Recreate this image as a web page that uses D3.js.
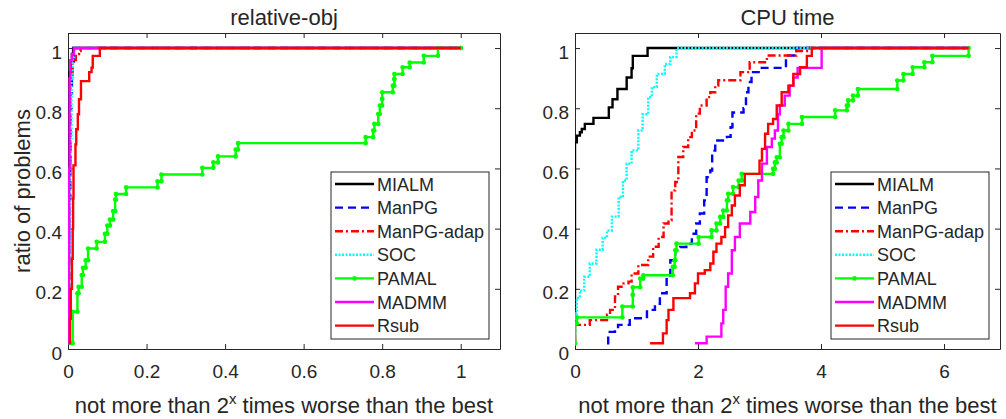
<!DOCTYPE html>
<html>
<head>
<meta charset="utf-8">
<script src="https://cdn.jsdelivr.net/npm/d3@7"></script>
<style>
  body { margin: 0; background: #fff; }
  text { font-family: "Liberation Sans", Arial, Helvetica, sans-serif; fill: #262626; }
</style>
</head>
<body>
<div id="chart"></div>
<script>
// Solver names (legend order = plot order)
var solverNames = ["MIALM", "ManPG", "ManPG-adap", "SOC", "PAMAL", "MADMM", "Rsub"];

// Panel titles
var panelTitles = ["relative-obj", "CPU time"];

// Tick values
var relObjTicks = [0, 0.2, 0.4, 0.6, 0.8, 1];
var cpuTicks = [0, 2, 4, 6];
var ratioTicks = [0, 0.2, 0.4, 0.6, 0.8, 1];

// relative-obj profiles: [x, ratio]
var relObjMIALM = [[0, 0.02], [0, 0.5], [0.002, 0.85], [0.004, 0.92], [0.007, 0.96], [0.01, 0.98], [0.013, 1], [1, 1]];
var relObjManPG = [[0, 0.02], [0.003, 0.5], [0.006, 0.85], [0.01, 0.95], [0.015, 1], [1, 1]];
var relObjManPGadap = [[0, 0.02], [0.003, 0.6], [0.006, 0.9], [0.012, 0.96], [0.02, 0.98], [0.028, 0.99], [0.032, 1], [1, 1]];
var relObjSOC = [[0, 0.02], [0.003, 0.3], [0.006, 0.7], [0.009, 0.9], [0.012, 0.97], [0.016, 1], [1, 1]];
var relObjPAMAL = [[0.007, 0.019], [0.012, 0.124], [0.024, 0.185], [0.027, 0.207], [0.035, 0.246], [0.038, 0.27],
  [0.045, 0.295], [0.051, 0.334], [0.073, 0.356], [0.094, 0.383], [0.1, 0.41], [0.107, 0.43], [0.115, 0.458],
  [0.12, 0.497], [0.122, 0.515], [0.148, 0.537], [0.228, 0.557], [0.238, 0.58], [0.342, 0.602], [0.37, 0.62],
  [0.382, 0.64], [0.427, 0.663], [0.433, 0.684], [0.758, 0.704], [0.777, 0.726], [0.78, 0.748], [0.79, 0.781],
  [0.794, 0.809], [0.8, 0.831], [0.8, 0.853], [0.827, 0.875], [0.831, 0.897], [0.831, 0.914], [0.852, 0.936],
  [0.87, 0.952], [0.906, 0.974], [0.942, 1], [1, 1]];
var relObjMADMM = [[0, 0.02], [0.002, 0.3], [0.003, 0.6], [0.004, 0.9], [0.006, 0.96], [0.01, 0.98], [0.015, 1], [1, 1]];
var relObjRsub = [[0.003, 0.02], [0.005, 0.1], [0.007, 0.2], [0.01, 0.3], [0.012, 0.4], [0.013, 0.5], [0.014, 0.61],
  [0.019, 0.68], [0.021, 0.73], [0.025, 0.78], [0.028, 0.83], [0.033, 0.89], [0.054, 0.92], [0.06, 0.935],
  [0.063, 0.974], [0.081, 1], [1, 1]];

// CPU time profiles: [x, ratio]
var cpuMIALM = [[0, 0.02], [0, 0.687], [0.03, 0.709], [0.08, 0.72], [0.11, 0.731], [0.16, 0.748], [0.3, 0.768],
  [0.55, 0.803], [0.61, 0.83], [0.69, 0.864], [0.84, 0.902], [0.92, 0.933], [0.94, 0.974], [1.18, 1], [6.4, 1]];
var cpuManPG = [[0.52, 0.019], [0.54, 0.057], [0.65, 0.068], [0.7, 0.08], [0.89, 0.102], [1.17, 0.13], [1.3, 0.15],
  [1.38, 0.185], [1.49, 0.24], [1.55, 0.295], [1.63, 0.328], [1.71, 0.339], [1.81, 0.35], [1.9, 0.383],
  [1.97, 0.417], [2.03, 0.45], [2.1, 0.494], [2.14, 0.571], [2.2, 0.593], [2.23, 0.659], [2.28, 0.693],
  [2.47, 0.705], [2.53, 0.737], [2.56, 0.786], [2.74, 0.8], [2.78, 0.853], [2.82, 0.887], [2.87, 0.92],
  [3.01, 0.934], [3.43, 0.975], [3.6, 1], [6.4, 1]];
var cpuManPGadap = [[0, 0.02], [0, 0.08], [0.24, 0.096], [0.52, 0.114], [0.57, 0.13], [0.65, 0.175], [0.7, 0.207],
  [0.79, 0.218], [0.87, 0.224], [0.92, 0.251], [1.03, 0.279], [1.19, 0.307], [1.27, 0.34], [1.36, 0.372],
  [1.44, 0.417], [1.52, 0.428], [1.57, 0.527], [1.63, 0.555], [1.68, 0.638], [1.76, 0.671], [1.84, 0.704],
  [1.9, 0.726], [1.97, 0.782], [2.03, 0.809], [2.14, 0.837], [2.2, 0.853], [2.28, 0.875], [2.33, 0.893],
  [2.69, 0.92], [2.84, 0.953], [3.12, 0.975], [3.6, 0.99], [3.8, 1], [6.4, 1]];
var cpuSOC = [[0, 0.06], [0, 0.118], [0.03, 0.17], [0.08, 0.194], [0.15, 0.24], [0.24, 0.284], [0.35, 0.33],
  [0.45, 0.37], [0.52, 0.394], [0.6, 0.44], [0.71, 0.505], [0.78, 0.56], [0.84, 0.616], [0.92, 0.66],
  [1.03, 0.726], [1.1, 0.78], [1.19, 0.837], [1.25, 0.87], [1.33, 0.914], [1.46, 0.947], [1.55, 0.97],
  [1.65, 1], [6.4, 1]];
var cpuPAMAL = [[0, 0.019], [0, 0.085], [0.03, 0.105], [0.77, 0.141], [0.94, 0.18], [0.94, 0.205], [1.06, 0.234],
  [1.11, 0.245], [1.59, 0.273], [1.62, 0.295], [1.63, 0.328], [1.65, 0.35], [2.01, 0.372], [2.22, 0.394],
  [2.3, 0.417], [2.36, 0.439], [2.41, 0.46], [2.47, 0.494], [2.49, 0.516], [2.57, 0.538], [2.66, 0.56],
  [2.71, 0.582], [3.22, 0.599], [3.25, 0.62], [3.28, 0.637], [3.33, 0.682], [3.36, 0.704], [3.39, 0.726],
  [3.47, 0.748], [3.69, 0.771], [4.23, 0.793], [4.42, 0.809], [4.44, 0.826], [4.52, 0.842], [4.6, 0.864],
  [5.24, 0.892], [5.34, 0.914], [5.49, 0.936], [5.68, 0.953], [5.81, 0.974], [6.4, 1]];
var cpuMADMM = [[1.95, 0.019], [2.14, 0.041], [2.38, 0.085], [2.41, 0.13], [2.45, 0.207], [2.49, 0.251],
  [2.55, 0.328], [2.6, 0.372], [2.68, 0.417], [2.85, 0.455], [2.93, 0.505], [2.98, 0.56], [3.04, 0.616],
  [3.12, 0.671], [3.2, 0.699], [3.25, 0.726], [3.3, 0.78], [3.33, 0.809], [3.41, 0.842], [3.49, 0.875],
  [3.55, 0.902], [3.62, 0.934], [4.01, 1], [6.4, 1]];
var cpuRsub = [[1.22, 0.019], [1.43, 0.052], [1.49, 0.096], [1.52, 0.13], [1.6, 0.169], [1.87, 0.185], [1.95, 0.218],
  [2.0, 0.251], [2.11, 0.262], [2.2, 0.284], [2.25, 0.323], [2.3, 0.35], [2.38, 0.372], [2.44, 0.405],
  [2.49, 0.444], [2.55, 0.477], [2.6, 0.51], [2.68, 0.544], [2.76, 0.582], [3.0, 0.626], [3.04, 0.665],
  [3.09, 0.715], [3.14, 0.748], [3.22, 0.764], [3.28, 0.809], [3.36, 0.853], [3.47, 0.875], [3.55, 0.914],
  [3.66, 0.936], [3.77, 0.974], [3.85, 1], [6.4, 1]];

var relObjSeries = [relObjMIALM, relObjManPG, relObjManPGadap, relObjSOC, relObjPAMAL, relObjMADMM, relObjRsub];
var cpuSeries = [cpuMIALM, cpuManPG, cpuManPGadap, cpuSOC, cpuPAMAL, cpuMADMM, cpuRsub];

// Line styles per solver
var solverStyles = [
  { color: "#000000", dash: null },
  { color: "#0000ff", dash: "8,5" },
  { color: "#ff0000", dash: "8,3,2,3" },
  { color: "#00ffff", dash: "2,1.5" },
  { color: "#00ff00", dash: null, marker: true },
  { color: "#ff00ff", dash: null },
  { color: "#ff0000", dash: null }
];

var svgWidth = 1006;
var svgHeight = 419;
var axisColor = "#262626";

var svg = d3.select("#chart")
  .append("svg")
  .attr("width", svgWidth)
  .attr("height", svgHeight);

svg.append("rect")
  .attr("width", svgWidth)
  .attr("height", svgHeight)
  .attr("fill", "#fff");

function drawPanel(p) {
  var g = svg.append("g")
    .attr("transform", `translate(${p.left}, ${p.top})`);

  var xScale = d3.scaleLinear().domain([0, p.xMax]).range([0, p.width]);
  var yScale = d3.scaleLinear().domain([0, 1.05]).range([p.height, 0]);

  // clip region
  g.append("clipPath").attr("id", p.id + "-clip")
    .append("rect")
    .attr("x", 0).attr("y", -4)
    .attr("width", p.width).attr("height", p.height + 4);

  // axes (ticks point inward, MATLAB style)
  var bottomAxis = d3.axisBottom(xScale).tickValues(p.xTicks).tickFormat(d => String(d))
    .tickSizeInner(-5).tickSizeOuter(0).tickPadding(16);
  var topAxis = d3.axisTop(xScale).tickValues(p.xTicks).tickFormat("")
    .tickSizeInner(-5).tickSizeOuter(0);
  var leftAxis = d3.axisLeft(yScale).tickValues(ratioTicks).tickFormat(d => String(d))
    .tickSizeInner(-5).tickSizeOuter(0).tickPadding(6);
  var rightAxis = d3.axisRight(yScale).tickValues(ratioTicks).tickFormat("")
    .tickSizeInner(-5).tickSizeOuter(0);

  var axes = [
    g.append("g").attr("transform", `translate(0, ${p.height})`).call(bottomAxis),
    g.append("g").call(topAxis),
    g.append("g").call(leftAxis),
    g.append("g").attr("transform", `translate(${p.width}, 0)`).call(rightAxis)
  ];
  axes.forEach(function(a) {
    a.selectAll("path, line").attr("stroke", axisColor).attr("stroke-width", 1);
    a.selectAll("text")
      .style("font-family", "'Liberation Sans', Arial, sans-serif")
      .style("font-size", "19px")
      .attr("fill", axisColor);
  });
  axes[2].selectAll("text").attr("dy", "0.53em");

  // profile curves
  var line = d3.line()
    .x(d => xScale(d[0]))
    .y(d => yScale(d[1]))
    .curve(d3.curveStepAfter);

  var curves = g.append("g").attr("clip-path", `url(#${p.id}-clip)`);

  p.series.forEach(function(data, i) {
    var st = solverStyles[i];
    curves.append("path")
      .datum(data)
      .attr("d", line)
      .attr("fill", "none")
      .attr("stroke", st.color)
      .attr("stroke-width", 2.4)
      .attr("stroke-dasharray", st.dash)
      .attr("stroke-linejoin", "miter");

    if (st.marker) {
      var corners = [];
      data.forEach(function(d, k) {
        if (k > 0) corners.push([d[0], data[k - 1][1]]);
        corners.push(d);
      });
      curves.append("g").selectAll("circle")
        .data(corners)
        .enter()
        .append("circle")
        .attr("cx", d => xScale(d[0]))
        .attr("cy", d => yScale(d[1]))
        .attr("r", 2.3)
        .attr("fill", st.color);
    }
  });

  // title
  g.append("text")
    .attr("x", p.width / 2)
    .attr("y", -8)
    .attr("text-anchor", "middle")
    .style("font-size", "22px")
    .text(p.title);

  // x label with superscript
  var xl = g.append("text")
    .attr("x", p.width / 2)
    .attr("y", p.height + 64)
    .attr("text-anchor", "middle")
    .style("font-size", "22px");
  xl.append("tspan").text("not more than 2");
  xl.append("tspan").attr("dy", -9).style("font-size", "15px").text("x");
  xl.append("tspan").attr("dy", 9).text(" times worse than the best");

  // y label (left panel only)
  if (p.yLabel) {
    g.append("text")
      .attr("transform", "rotate(-90)")
      .attr("x", -p.height / 2)
      .attr("y", 30 - p.left)
      .attr("text-anchor", "middle")
      .style("font-size", "22px")
      .text(p.yLabel);
  }

  // legend
  var legW = 158, legH = 167;
  var leg = g.append("g")
    .attr("transform", `translate(${p.width - 11 - legW}, ${172 - p.top})`);
  leg.append("rect")
    .attr("width", legW).attr("height", legH)
    .attr("fill", "#fff")
    .attr("stroke", axisColor)
    .attr("stroke-width", 1);

  solverNames.forEach(function(name, i) {
    var st = solverStyles[i];
    var y = 12 + i * 23.6;
    leg.append("line")
      .attr("x1", 4).attr("x2", 43)
      .attr("y1", y).attr("y2", y)
      .attr("stroke", st.color)
      .attr("stroke-width", 2.4)
      .attr("stroke-dasharray", st.dash);
    if (st.marker) {
      leg.append("circle").attr("cx", 23.5).attr("cy", y).attr("r", 2.3).attr("fill", st.color);
    }
    leg.append("text")
      .attr("x", 46).attr("y", y + 6.5)
      .style("font-size", "18px")
      .text(name);
  });
}

drawPanel({ id: "relobj", left: 68, top: 33, width: 432, height: 316, xMax: 1.1,
  xTicks: relObjTicks, series: relObjSeries, title: panelTitles[0], yLabel: "ratio of problems" });
drawPanel({ id: "cpu", left: 575, top: 33, width: 425, height: 316, xMax: 6.91,
  xTicks: cpuTicks, series: cpuSeries, title: panelTitles[1], yLabel: null });
</script>
</body>
</html>
